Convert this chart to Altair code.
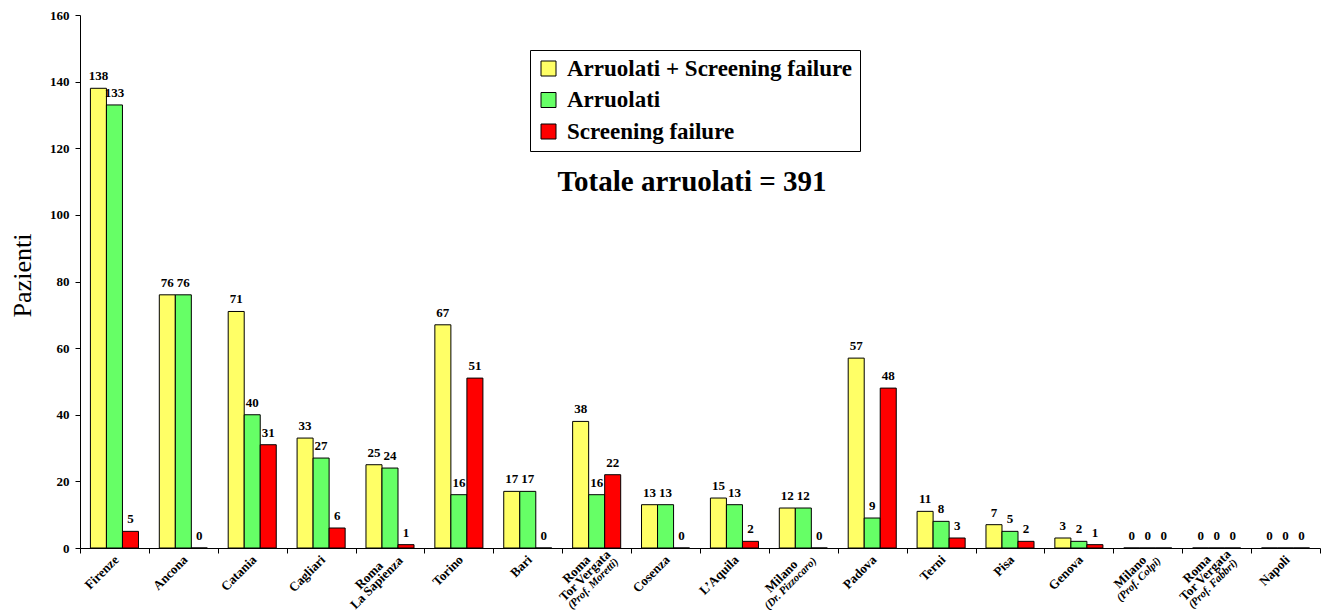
import altair as alt
import pandas as pd

# ---------------- data ----------------
categories = [
    "Firenze", "Ancona", "Catania", "Cagliari", "Roma|La Sapienza", "Torino", "Bari",
    "Roma|Tor Vergata|(Prof. Moretti)", "Cosenza", "L’Aquila", "Milano|(Dr. Pizzocaro)",
    "Padova", "Terni", "Pisa", "Genova", "Milano|(Prof. Colpi)",
    "Roma|Tor Vergata|(Prof. Fabbri)", "Napoli",
]
series_names = ["Arruolati + Screening failure", "Arruolati", "Screening failure"]
totale = [138, 76, 71, 33, 25, 67, 17, 38, 13, 15, 12, 57, 11, 7, 3, 0, 0, 0]
arruolati = [133, 76, 40, 27, 24, 16, 17, 16, 13, 13, 12, 9, 8, 5, 2, 0, 0, 0]
screening = [5, 0, 31, 6, 1, 51, 0, 22, 0, 2, 0, 48, 3, 2, 1, 0, 0, 0]
series_colors = ["#FFFF66", "#66FF66", "#FF0000"]
y_ticks = [0, 20, 40, 60, 80, 100, 120, 140, 160]
headline = ["Totale arruolati = 391"]

rows = []
for i, c in enumerate(categories):
    for s, vals in zip(series_names, [totale, arruolati, screening]):
        rows.append({"centro": c, "serie": s, "pazienti": vals[i]})
df = pd.DataFrame(rows)

FONT = "Liberation Serif"
W, H = 1240, 533

# ---- approximate Times bold widths (em) to centre multi-line labels ----
WID = {"(": .333, ")": .333, ".": .25, " ": .25, "’": .333}
for ch in "ABCDEFGHIJKLMNOPQRSTUVWXYZ":
    WID[ch] = .70
WID.update({"M": .94, "I": .39, "L": .667, "P": .611, "S": .556, "T": .667, "F": .611, "C": .722})
for ch in "abcdefghijklmnopqrstuvwxyz":
    WID[ch] = .5
WID.update({"i": .278, "l": .278, "t": .333, "f": .333, "r": .444, "e": .444, "c": .444,
            "z": .444, "s": .389, "m": .833, "n": .556, "u": .556, "p": .556, "b": .556})

BOLD_FS, ITAL_FS = 13, 11
LH_BOLD, LH_ITAL = 10.5, 11.5


def width(txt, fs):
    return sum(WID.get(ch, .5) for ch in txt) * fs


BASE_OX, BASE_PAD = -2.5, 0.0
R = 0.7071
offsets = {0: {}, 1: {}, 2: {}}  # axis index -> {category: (ox, pad)}
for c in categories:
    parts = c.split("|")
    bold = [p for p in parts if not p.startswith("(")]
    ital = [p for p in parts if p.startswith("(")]
    lines = [(p, width(p, BOLD_FS)) for p in bold] + [(p, width(p, ITAL_FS)) for p in ital]
    n = len(lines)
    if n == 1:
        continue
    wmax = max(l[1] for l in lines)
    cox = BASE_OX + 1.2 * (n - 1)
    cpad = BASE_PAD - 6.5 * (n - 1)
    ycum = 0.0
    for k, (p, w) in enumerate(lines):
        if k > 0:
            ycum += LH_ITAL if p.startswith("(") else LH_BOLD
        s = -(wmax - w) / 2.0
        ox = cox + R * (s + ycum)
        pad = cpad + R * (-s + ycum)
        axis_idx = 2 if p.startswith("(") else k
        offsets[axis_idx][c] = (round(ox, 2), round(pad, 2))


def cond(axis_idx, which, default):
    conds = [{"test": f"datum.value === '{c}'", "value": v[which]} for c, v in offsets[axis_idx].items()]
    if not conds:
        return default
    return {"condition": conds, "value": default}


x_scale = alt.Scale(domain=categories, paddingInner=0, paddingOuter=0)
xoff_scale = alt.Scale(domain=series_names, paddingInner=0, paddingOuter=0.65)

common_axis = dict(
    title=None, orient="bottom", labelAngle=-45, labelAlign="right", labelBaseline="top",
    labelFont=FONT, labelColor="black", tickBand="extent", tickSize=5,
    labelOverlap=False, labelBound=False, labelFlush=False,
)

axis1 = alt.Axis(
    **common_axis, labelFontSize=BOLD_FS, labelFontWeight="bold",
    labelExpr="isString(datum.value) ? split(datum.value, '|')[0] : ''",
    labelOffset=cond(0, 0, BASE_OX), labelPadding=cond(0, 1, BASE_PAD),
    tickColor="black", domainColor="black", domainWidth=1, tickWidth=1,
)
axis2 = alt.Axis(
    **common_axis, labelFontSize=BOLD_FS, labelFontWeight="bold",
    labelExpr="isString(datum.value) && length(split(datum.value, '|')) > 1 && indexof(split(datum.value, '|')[1], '(') != 0 ? split(datum.value, '|')[1] : ''",
    labelOffset=cond(1, 0, BASE_OX), labelPadding=cond(1, 1, BASE_PAD),
    tickOpacity=0, domain=False,
)
axis3 = alt.Axis(
    **common_axis, labelFontSize=ITAL_FS, labelFontWeight="bold", labelFontStyle="italic",
    labelExpr="isString(datum.value) && indexof(datum.value, '|(') >= 0 ? slice(datum.value, indexof(datum.value, '|(') + 1) : ''",
    labelOffset=cond(2, 0, BASE_OX), labelPadding=cond(2, 1, BASE_PAD),
    tickOpacity=0, domain=False,
)

y_enc = alt.Y(
    "pazienti:Q",
    scale=alt.Scale(domain=[0, 160], nice=False),
    axis=alt.Axis(
        values=y_ticks, title="Pazienti", titleFont=FONT, titleFontSize=26, titleFontWeight="normal",
        titleColor="black", titlePadding=14, titleY=260, labelFont=FONT, labelFontSize=13,
        labelFontWeight="bold", labelColor="black", labelPadding=6, tickSize=5, tickColor="black",
        domainColor="black", grid=False,
    ),
)

base = alt.Chart(df)

bars = base.mark_bar(stroke="black", strokeWidth=1).encode(
    x=alt.X("centro:N", sort=categories, scale=x_scale, axis=axis1),
    xOffset=alt.XOffset("serie:N", sort=series_names, scale=xoff_scale),
    y=y_enc,
    color=alt.Color(
        "serie:N",
        scale=alt.Scale(domain=series_names, range=series_colors),
        legend=alt.Legend(
            title=None, orient="none", legendX=450, legendY=35, fillColor="white",
            strokeColor="black", padding=7, symbolType="square", symbolSize=225,
            symbolStrokeColor="black", symbolStrokeWidth=1, labelFont=FONT, labelFontSize=23,
            labelFontWeight="bold", labelColor="black", rowPadding=7.5, labelOffset=7,
            labelLimit=400,
        ),
    ),
)

labels = base.mark_text(font=FONT, fontSize=13, fontWeight="bold", color="black", baseline="alphabetic", dy=-8).encode(
    x=alt.X("centro:N", sort=categories, scale=x_scale, axis=axis2),
    xOffset=alt.XOffset("serie:N", sort=series_names, scale=xoff_scale),
    y=alt.Y("pazienti:Q"),
    text=alt.Text("pazienti:Q"),
)

ghost = base.mark_point(opacity=0).encode(
    x=alt.X("centro:N", sort=categories, scale=x_scale, axis=axis3),
    y=alt.Y("pazienti:Q"),
)

title_layer = alt.Chart(pd.DataFrame({"t": headline})).mark_text(
    font=FONT, fontSize=29, fontWeight="bold", color="black"
).encode(x=alt.value(612), y=alt.value(167), text="t:N")

chart = (
    alt.layer(bars, labels, ghost, title_layer)
    .resolve_axis(x="independent")
    .properties(
        width=W, height=H,
        autosize=alt.AutoSizeParams(type="none"),
        padding={"left": 72, "top": 7, "right": 2, "bottom": 63},
        background="white",
    )
    .configure_view(stroke=None)
)

chart.save("out.html", embed_options={"renderer": "svg", "actions": False})
